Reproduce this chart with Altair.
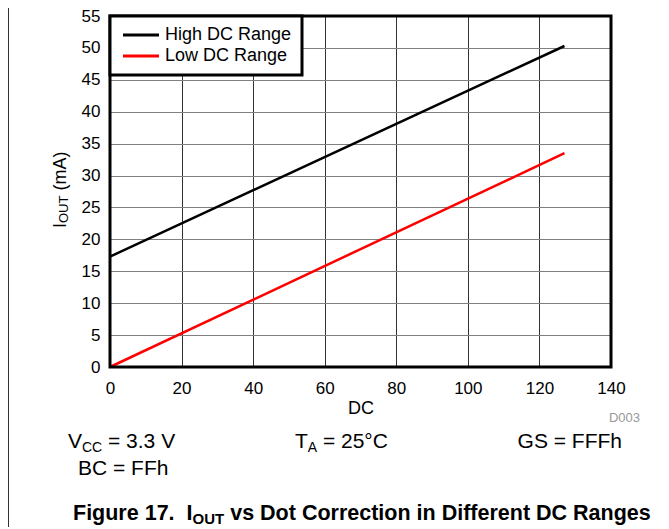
import altair as alt
import pandas as pd

# ---- data ----
dc_values = [0, 127]
high_dc = [17.3, 50.3]
low_dc = [0.0, 33.5]
series_names = ["High DC Range", "Low DC Range"]
series_colors = ["#000000", "#ff0000"]
x_ticks = [0, 20, 40, 60, 80, 100, 120, 140]
y_ticks = [0, 5, 10, 15, 20, 25, 30, 35, 40, 45, 50, 55]

FONT = "Liberation Sans"
W, H = 501, 351

df = pd.DataFrame({
    "DC": dc_values + dc_values,
    "IOUT": high_dc + low_dc,
    "series": [series_names[0]] * len(dc_values) + [series_names[1]] * len(dc_values),
})

lines = alt.Chart(df).mark_line(strokeWidth=2.5).encode(
    x=alt.X("DC:Q",
            scale=alt.Scale(domain=[0, 140], nice=False),
            axis=alt.Axis(values=x_ticks, title="DC", titleFontSize=18,
                          titleFontWeight="normal", titleColor="black",
                          titlePadding=3, labelFontSize=17, labelColor="black",
                          labelPadding=13, labelFlush=False, ticks=False,
                          tickSize=0, domain=False, grid=True,
                          gridColor="#333333", gridWidth=1)),
    y=alt.Y("IOUT:Q",
            scale=alt.Scale(domain=[0, 55], nice=False),
            axis=alt.Axis(values=y_ticks, title=None, labelFontSize=17,
                          labelColor="black", labelPadding=10, labelFlush=False,
                          ticks=False, tickSize=0, domain=False, grid=True,
                          gridColor="#808080", gridWidth=1.2)),
    color=alt.Color("series:N",
                    scale=alt.Scale(domain=series_names, range=series_colors),
                    legend=alt.Legend(title=None, orient="top-left", offset=0,
                                      padding=10, fillColor="white",
                                      strokeColor="black", labelFontSize=18,
                                      labelColor="black", labelFont=FONT,
                                      symbolType="M-3,0H3", symbolSize=144,
                                      symbolOffset=12, labelOffset=15,
                                      symbolStrokeWidth=3, rowPadding=3,
                                      labelLimit=400)),
)

one = pd.DataFrame({"k": [0]})

border = alt.Chart(one).mark_rect(fill="transparent", stroke="black", strokeWidth=3).encode(
    x=alt.value(0), x2=alt.value(W), y=alt.value(0), y2=alt.value(H))

frame = alt.Chart(one).mark_rule(color="#333333", strokeWidth=1).encode(
    x=alt.value(-101.5), y=alt.value(-8), y2=alt.value(515))


def txt(text, x, y, size, weight="normal", color="black", align="left", angle=0):
    return alt.Chart(one).mark_text(
        text=text, font=FONT, fontSize=size, fontWeight=weight, color=color,
        align=align, baseline="alphabetic", angle=angle).encode(
        x=alt.value(x), y=alt.value(y))


texts = [
    # y axis title  I_OUT (mA)
    txt("I", -44, 212, 18, angle=270),
    txt("OUT", -42, 207, 13, angle=270),
    txt("(mA)", -44, 174.6, 18, angle=270),
    # conditions
    txt("V", -42, 432, 21),
    txt("CC", -28, 436, 14),
    txt("= 3.3 V", -2, 432, 21),
    txt("T", 185, 432, 21),
    txt("A", 197.8, 436, 14),
    txt("= 25°C", 212.9, 432, 21),
    txt("GS = FFFh", 512, 432, 21, align="right"),
    txt("BC = FFh", -32, 459, 21),
    txt("D003", 530, 406, 13, color="#999999", align="right"),
    # caption
    txt("Figure 17.\u00a0\u00a0I", -37, 504, 21.5, weight="bold"),
    txt("OUT", 82.5, 508, 15, weight="bold"),
    txt("vs Dot Correction in Different DC Ranges", 120.2, 504, 21.5, weight="bold"),
]

chart = alt.layer(lines, border, frame, *texts).properties(
    width=W, height=H,
    padding={"left": 102, "top": 8, "right": 50, "bottom": 160},
    autosize=alt.AutoSizeParams(type="none"),
).configure(font=FONT).configure_view(stroke="transparent").configure_legend(strokeWidth=3)

chart.save("out.html", embed_options={"renderer": "svg", "actions": False})
